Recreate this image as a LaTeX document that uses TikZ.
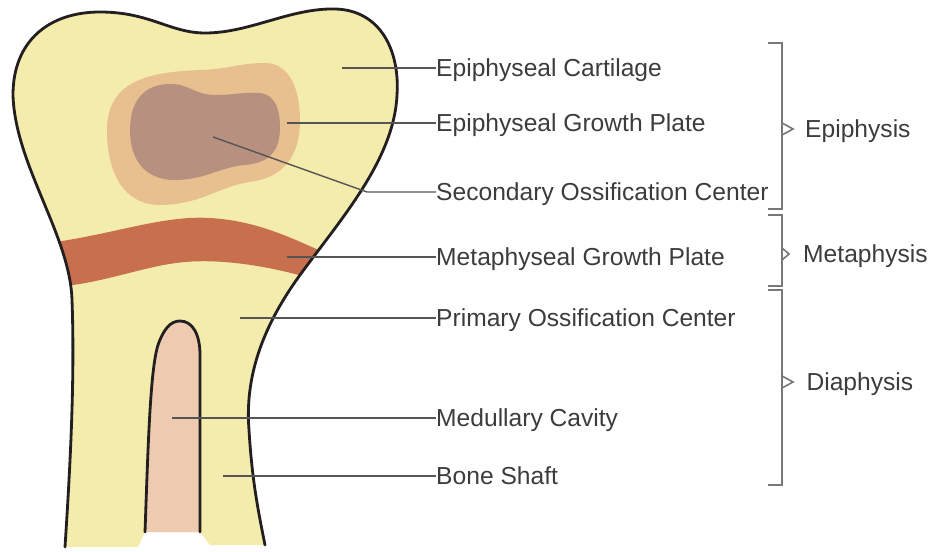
\documentclass[tikz,border=0pt]{standalone}
\usepackage{fontspec}
\setmainfont{Liberation Sans}
\usepackage{xcolor}
\usetikzlibrary{positioning}
\definecolor{bonefill}{RGB}{244,236,172}
\definecolor{plateouter}{RGB}{232,192,144}
\definecolor{ossicore}{RGB}{184,144,127}
\definecolor{metaband}{RGB}{200,112,78}
\definecolor{marrow}{RGB}{238,203,176}
\definecolor{boneedge}{RGB}{35,31,32}
\definecolor{leadgray}{RGB}{85,85,85}
\definecolor{textgray}{RGB}{60,60,60}
\definecolor{bracegray}{RGB}{120,120,120}
\tikzset{
  boneline/.style={draw=boneedge, line width=2.4pt, line join=round, line cap=round},
  leader/.style={draw=leadgray, line width=1.2pt},
  partlabel/.style={anchor=west, inner sep=0pt, text=textgray,
    text height=15pt, text depth=0pt, font=\fontsize{21}{25}\selectfont},
  regionlabel/.style={partlabel},
  bracket/.style={draw=bracegray, line width=1.4pt}
}

\begin{document}
\begin{tikzpicture}[x=0.3mm, y=-0.3mm]
\useasboundingbox (0,0) rectangle (933,552);

% bone body, plates and ossification centres
\begin{scope}
\clip (65,547) .. controls (70,470) and (75,380) .. (72,300)
  .. controls (70,235) and (15,165) .. (13,95)
  .. controls (13,40) and (50,12) .. (100,12)
  .. controls (150,12) and (170,33) .. (205,33)
  .. controls (250,33) and (290,8) .. (335,9)
  .. controls (380,10) and (400,50) .. (397,95)
  .. controls (394,160) and (340,220) .. (300,275)
  .. controls (260,330) and (245,380) .. (249,430)
  .. controls (252,480) and (258,510) .. (265,545)
  -- (210,545) -- (200,532) -- (145,532) -- (138,547) -- cycle;
\fill[bonefill] (0,0) rectangle (933,552);
\fill[plateouter] (107,130) .. controls (107,80) and (150,72) .. (200,70)
  .. controls (230,69) and (240,63) .. (265,63)
  .. controls (290,63) and (300,90) .. (300,120)
  .. controls (300,160) and (280,178) .. (250,182)
  .. controls (220,186) and (200,205) .. (160,205)
  .. controls (125,205) and (107,175) .. (107,130) -- cycle;
\fill[ossicore] (130,130) .. controls (130,100) and (145,84) .. (170,84)
  .. controls (190,84) and (195,95) .. (215,95)
  .. controls (235,95) and (240,92) .. (260,93)
  .. controls (278,95) and (280,115) .. (280,128)
  .. controls (280,150) and (270,163) .. (245,165)
  .. controls (220,167) and (205,180) .. (175,180)
  .. controls (145,180) and (130,160) .. (130,130) -- cycle;
\fill[metaband] (40,244) .. controls (110,236) and (160,215) .. (210,218)
  .. controls (260,221) and (295,240) .. (330,255) -- (330,285)
  .. controls (290,270) and (230,258) .. (185,262)
  .. controls (140,266) and (100,286) .. (40,288) -- cycle;
\end{scope}

\draw[boneline] (65,547) .. controls (70,470) and (75,380) .. (72,300)
  .. controls (70,235) and (15,165) .. (13,95)
  .. controls (13,40) and (50,12) .. (100,12)
  .. controls (150,12) and (170,33) .. (205,33)
  .. controls (250,33) and (290,8) .. (335,9)
  .. controls (380,10) and (400,50) .. (397,95)
  .. controls (394,160) and (340,220) .. (300,275)
  .. controls (260,330) and (245,380) .. (249,430)
  .. controls (252,480) and (258,510) .. (265,545);

% medullary cavity
\fill[marrow] (145,532) .. controls (148,450) and (150,370) .. (158,345)
  .. controls (164,328) and (171,321) .. (180,321)
  .. controls (193,321) and (200,335) .. (200,355) -- (200,532) -- cycle;
\draw[boneline] (145,532) .. controls (148,450) and (150,370) .. (158,345)
  .. controls (164,328) and (171,321) .. (180,321)
  .. controls (193,321) and (200,335) .. (200,355) -- (200,532);

% part labels
\node[partlabel] (cartilage) at (436,68) {Epiphyseal Cartilage};
\node[partlabel] (epiplate) at (436,123) {Epiphyseal Growth Plate};
\node[partlabel] (secondary) at (436,192) {Secondary Ossification Center};
\node[partlabel] (metaplate) at (436,257) {Metaphyseal Growth Plate};
\node[partlabel] (primary) at (436,318) {Primary Ossification Center};
\node[partlabel] (medullary) at (436,418) {Medullary Cavity};
\node[partlabel] (shaft) at (436,476) {Bone Shaft};

\coordinate (cartilagept) at (342,68);
\coordinate (epiplatept) at (287,123);
\coordinate (secondarypt) at (213,137);
\coordinate (secondarybend) at (367,192);
\coordinate (metaplatept) at (287,257);
\coordinate (primarypt) at (240,318);
\coordinate (medullarypt) at (172,418);
\coordinate (shaftpt) at (223,476);

\draw[leader] (cartilagept) -- (cartilage.west);
\draw[leader] (epiplatept) -- (epiplate.west);
\draw[leader] (secondarypt) -- (secondarybend) -- (secondary.west);
\draw[leader] (metaplatept) -- (metaplate.west);
\draw[leader] (primarypt) -- (primary.west);
\draw[leader] (medullarypt) -- (medullary.west);
\draw[leader] (shaftpt) -- (shaft.west);

% region brackets
\draw[bracket] (768,43) -- (782,43) -- (782,209) -- (768,209);
\draw[bracket] (782,123) -- (793,129) -- (782,135);
\coordinate (epitip) at (793,129);
\node[regionlabel, right=3.6mm of epitip] (epiphysis) {Epiphysis};

\draw[bracket] (768,215) -- (782,215) -- (782,286) -- (768,286);
\draw[bracket] (782,248) -- (789,254) -- (782,260);
\coordinate (metatip) at (789,254);
\node[regionlabel, right=4.2mm of metatip] (metaphysis) {Metaphysis};

\draw[bracket] (768,290) -- (782,290) -- (782,485) -- (768,485);
\draw[bracket] (782,376) -- (793,382) -- (782,388);
\coordinate (diatip) at (793,382);
\node[regionlabel, right=4mm of diatip] (diaphysis) {Diaphysis};
\end{tikzpicture}
\end{document}
